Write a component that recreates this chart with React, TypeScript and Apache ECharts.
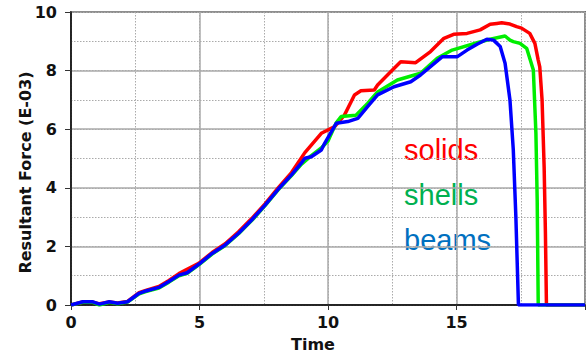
import React, { useEffect, useRef } from "react";
import * as echarts from "echarts";

const xTickLabels = ["0", "5", "10", "15"];

const solidsT = [0, 0.46, 0.85, 1.11, 1.49, 1.81, 2.2, 2.65, 2.91, 3.42, 3.81, 4.2, 4.46, 4.97, 5.49, 6.0, 6.52, 7.03, 7.55, 8.06, 8.58, 9.1, 9.74, 10.26, 10.64, 11.03, 11.28, 11.8, 11.93, 12.44, 12.83, 13.41, 13.99, 14.51, 14.89, 15.41, 15.92, 16.31, 16.57, 16.76, 17.08, 17.34, 17.53, 17.85, 18.05, 18.18, 18.24, 18.33, 18.41, 18.46, 18.5, 20];
const solidsV = [0, 0.1, 0.1, 0.04, 0.1, 0.07, 0.12, 0.42, 0.5, 0.63, 0.84, 1.07, 1.19, 1.42, 1.79, 2.09, 2.5, 2.95, 3.45, 4.0, 4.52, 5.2, 5.86, 6.09, 6.48, 7.17, 7.31, 7.34, 7.51, 7.96, 8.3, 8.27, 8.65, 9.1, 9.24, 9.27, 9.39, 9.58, 9.61, 9.63, 9.59, 9.5, 9.45, 9.27, 8.93, 8.36, 8.13, 6.99, 4.72, 2.45, 0, 0];

const shellsT = [0, 0.46, 0.85, 1.11, 1.49, 1.81, 2.2, 2.65, 2.91, 3.42, 3.81, 4.2, 4.52, 4.97, 5.49, 6.0, 6.52, 7.03, 7.55, 8.06, 8.58, 8.96, 9.35, 9.74, 10.0, 10.32, 10.51, 11.09, 11.54, 11.93, 12.7, 13.6, 14.25, 14.83, 15.8, 16.31, 16.89, 17.08, 17.21, 17.47, 17.73, 17.85, 17.99, 18.09, 18.14, 18.18, 20];
const shellsV = [0, 0.09, 0.09, 0.0, 0.09, 0.04, 0.1, 0.38, 0.46, 0.58, 0.78, 1.0, 1.08, 1.37, 1.74, 2.03, 2.43, 2.88, 3.39, 3.93, 4.42, 4.8, 5.1, 5.36, 5.6, 6.22, 6.43, 6.48, 6.88, 7.27, 7.68, 7.91, 8.42, 8.7, 8.95, 9.07, 9.18, 9.04, 8.99, 8.93, 8.76, 8.42, 8.02, 5.86, 3.58, 0, 0];

const beamsT = [0, 0.46, 0.85, 1.11, 1.49, 1.81, 2.2, 2.65, 2.91, 3.42, 3.81, 4.2, 4.52, 4.97, 5.49, 6.0, 6.52, 7.03, 7.55, 8.06, 8.58, 8.96, 9.1, 9.35, 9.74, 9.87, 10.32, 10.77, 11.16, 11.54, 11.93, 12.57, 13.22, 13.6, 14.44, 15.02, 15.41, 15.8, 16.18, 16.44, 16.7, 16.89, 17.08, 17.21, 17.31, 17.41, 20];
const beamsV = [0, 0.11, 0.11, 0.03, 0.11, 0.06, 0.11, 0.4, 0.48, 0.6, 0.8, 1.02, 1.1, 1.39, 1.76, 2.05, 2.45, 2.9, 3.41, 3.95, 4.44, 4.84, 5.01, 5.06, 5.29, 5.52, 6.2, 6.26, 6.37, 6.77, 7.17, 7.45, 7.62, 7.85, 8.47, 8.47, 8.7, 8.9, 9.07, 9.04, 8.82, 8.25, 7.0, 5.29, 3.01, 0, 0];

const zip = (t: number[], v: number[]) => t.map((x, i) => [x, v[i]]);

export default function App() {
  const ref = useRef<HTMLDivElement>(null);
  useEffect(() => {
    if (!ref.current) return;
    const chart = echarts.init(ref.current, undefined, { renderer: "svg" });
    const labelFont = {
      fontFamily: "DejaVu Sans",
      fontWeight: "bold" as const,
      fontSize: 16,
      color: "#111",
    };
    const lineSeries = (name: string, data: number[][], color: string) => ({
      name,
      type: "line",
      data,
      showSymbol: false,
      symbol: "none",
      lineStyle: { color, width: 3.5 },
      itemStyle: { color },
      xAxisIndex: 0,
      yAxisIndex: 0,
      z: 3,
    });
    const dotted = { show: true, lineStyle: { color: "#aaa", width: 1, type: [1.5, 1.5] } };
    const hiddenParts = {
      axisLine: { show: false },
      axisTick: { show: false },
      axisLabel: { show: false },
    };
    chart.setOption({
      animation: false,
      backgroundColor: "#fff",
      grid: {
        left: 71,
        top: 12,
        width: 516,
        height: 293,
        show: true,
        borderColor: "#000",
        borderWidth: 1.5,
        backgroundColor: "transparent",
      },
      xAxis: [
        {
          type: "value",
          position: "bottom",
          min: 0,
          max: 20,
          interval: 5,
          z: 2,
          axisLine: { show: true, lineStyle: { color: "#000", width: 1.5 } },
          axisTick: { show: true, inside: false, length: 5, lineStyle: { color: "#333" } },
          axisLabel: {
            ...labelFont,
            margin: 9,
            formatter: (v: number) => (xTickLabels.includes(String(v)) ? String(v) : ""),
          },
          splitLine: { show: true, lineStyle: { color: "#aaa", width: 1.5 } },
        },
        {
          type: "value",
          position: "bottom",
          min: 0,
          max: 20,
          interval: 2.5,
          z: 1,
          ...hiddenParts,
          splitLine: dotted,
        },
      ],
      yAxis: [
        {
          type: "value",
          position: "left",
          min: 0,
          max: 10,
          interval: 2,
          z: 2,
          axisLine: { show: true, lineStyle: { color: "#000", width: 1.5 } },
          axisTick: { show: true, inside: false, length: 6, lineStyle: { color: "#333" } },
          axisLabel: { ...labelFont, margin: 14 },
          splitLine: { show: true, lineStyle: { color: "#aaa", width: 1.5 } },
        },
        {
          type: "value",
          position: "left",
          min: 0,
          max: 10,
          interval: 1,
          z: 1,
          ...hiddenParts,
          splitLine: dotted,
        },
      ],
      series: [
        lineSeries("solids", zip(solidsT, solidsV), "#ff0000"),
        lineSeries("shells", zip(shellsT, shellsV), "#00ee00"),
        lineSeries("beams", zip(beamsT, beamsV), "#0000ff"),
      ],
      graphic: [
        {
          type: "text",
          left: 314 - 23,
          top: 336,
          style: { text: "Time", font: "bold 16px 'DejaVu Sans'", fill: "#111" },
        },
        {
          type: "text",
          x: 17,
          y: 172.5,
          rotation: Math.PI / 2,
          style: {
            text: "Resultant Force (E-03)",
            font: "bold 16px 'DejaVu Sans'",
            fill: "#111",
            align: "center",
            verticalAlign: "top",
          },
        },
        {
          type: "text",
          x: 404,
          y: 135,
          style: { text: "solids", font: "29px 'Liberation Sans'", fill: "#ff0000", verticalAlign: "top" },
        },
        {
          type: "text",
          x: 404,
          y: 180,
          style: { text: "shells", font: "29px 'Liberation Sans'", fill: "#00b050", verticalAlign: "top" },
        },
        {
          type: "text",
          x: 404,
          y: 225,
          style: { text: "beams", font: "29px 'Liberation Sans'", fill: "#0070c0", verticalAlign: "top" },
        },
      ],
    });
    return () => chart.dispose();
  }, []);
  return (
    <div
      ref={ref}
      style={{ position: "fixed", left: 0, top: 0, width: 588, height: 354 }}
    />
  );
}
